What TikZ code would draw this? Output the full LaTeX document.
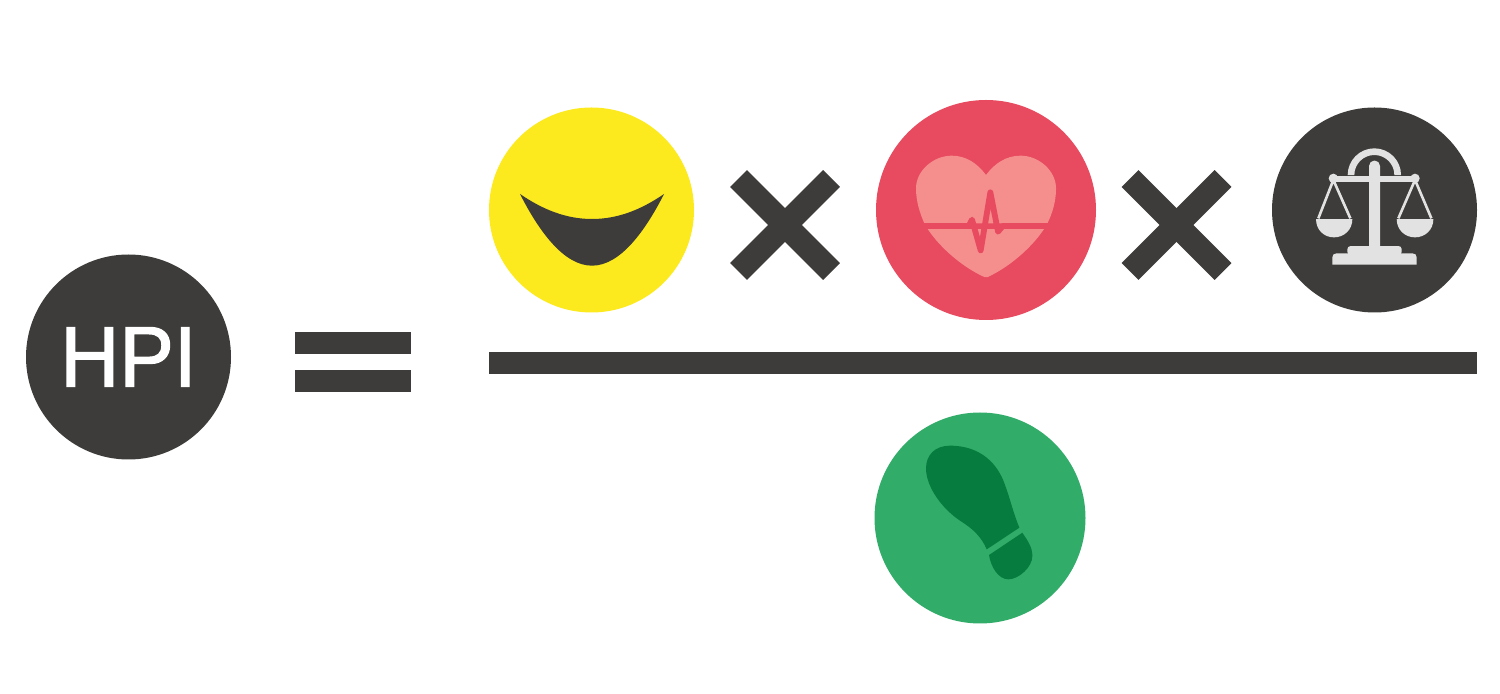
\documentclass[tikz,border=0pt]{standalone}
\usepackage{fontspec}
\setmainfont{Liberation Sans}[FakeBold=1.5,FakeStretch=0.95]
\definecolor{dk}{HTML}{3D3C3A}
\definecolor{yel}{HTML}{FCEA1E}
\definecolor{redc}{HTML}{E84A5F}
\definecolor{pink}{HTML}{F48F8E}
\definecolor{grn}{HTML}{32AC69}
\definecolor{dgrn}{HTML}{067D3E}
\definecolor{lite}{HTML}{E2E2E2}
\tikzset{
  disc/.style={circle,inner sep=0pt,outer sep=0pt,minimum size=#1*0.5pt},
  crossbar/.style={draw=dk,line width=12pt,line cap=butt}
}
\begin{document}
\begin{tikzpicture}[x=0.5pt,y=-0.5pt]
\useasboundingbox (0,0) rectangle (1500,694);
\fill[white] (0,0) rectangle (1500,694);
% discs
\node[disc=205,fill=dk,text=white] (hpi) at (128.5,357) {\fontsize{43}{43}\selectfont HPI};
\node[disc=205,fill=yel] (joy) at (591.5,210) {};
\node[disc=220,fill=redc] (health) at (986,210) {};
\node[disc=205,fill=dk] (fair) at (1374.5,210) {};
\node[disc=211,fill=grn] (foot) at (980,518) {};
% operators
\fill[dk] (295,332) rectangle (411,354);
\fill[dk] (295,370) rectangle (411,392);
\fill[dk] (489,352.5) rectangle (1477,374);
\foreach \dx in {0,391.5}{
  \draw[crossbar] (738.5+\dx,178.5) -- (831.5+\dx,271.5);
  \draw[crossbar] (831.5+\dx,178.5) -- (738.5+\dx,271.5);
}
% smile (zoom coordinates)
\begin{scope}[shift={(510,180)},x=0.1667pt,y=-0.1667pt]
\fill[dk] (30,42) .. controls (85,150) and (160,257) .. (246,257)
  .. controls (332,257) and (407,150) .. (462,42)
  .. controls (392,90) and (322,117) .. (246,117)
  .. controls (170,117) and (100,90) .. (30,42) -- cycle;
\end{scope}
% heart (zoom coordinates)
\begin{scope}[shift={(890,130)},x=0.1667pt,y=-0.1667pt]
\fill[pink] (288,135) .. controls (262,100) and (228,77) .. (185,77)
  .. controls (130,77) and (78,122) .. (78,175)
  .. controls (78,215) and (90,250) .. (103,280)
  -- (472,280)
  .. controls (487,250) and (498,215) .. (498,175)
  .. controls (498,122) and (446,77) .. (392,77)
  .. controls (348,77) and (314,100) .. (288,135) -- cycle;
\fill[pink] (113,297) -- (462,297)
  .. controls (420,360) and (350,415) .. (293,441)
  .. controls (290,443) and (286,443) .. (283,441)
  .. controls (225,415) and (155,360) .. (113,297) -- cycle;
\draw[redc,line width=2.9pt,line join=round,line cap=round]
  (103,288) -- (236,288) -- (246,269) -- (272,361) -- (301,187) -- (324,305) -- (338,288) -- (472,288);
\end{scope}
% scales (zoom coordinates)
\begin{scope}[shift={(1270,130)},x=0.1667pt,y=-0.1667pt]
\fill[lite] (233,135) arc[start angle=180,end angle=360,radius=80] -- (373,135) arc[start angle=360,end angle=180,radius=60] -- cycle;
\fill[lite] (297,350) -- (297,108) arc[start angle=180,end angle=360,radius=16.5] -- (330,350) -- cycle;
\fill[lite] (190,139) rectangle (435,157);
\fill[lite] (190,145) circle[radius=14];
\fill[lite] (435,145) circle[radius=14];
\fill[lite,rounded corners=1.6pt] (232,348) rectangle (395,375);
\fill[lite] (187,404) -- (187,382) .. controls (187,374) and (192,370) .. (200,370) -- (427,370) .. controls (435,370) and (440,374) .. (440,382) -- (440,404) -- cycle;
\draw[lite,line width=1.3pt,line join=round] (145,265) -- (190,150) -- (241,265);
\draw[lite,line width=1.3pt,line join=round] (385,265) -- (435,150) -- (484,265);
\fill[lite] (138,267) -- (247,267) .. controls (247,300) and (222,322) .. (192,322) .. controls (162,322) and (138,300) .. (138,267) -- cycle;
\fill[lite] (380,267) -- (490,267) .. controls (490,300) and (465,322) .. (435,322) .. controls (405,322) and (380,300) .. (380,267) -- cycle;
\end{scope}
% footprint (zoom coordinates)
\begin{scope}[shift={(900,430)},x=0.1667pt,y=-0.1667pt]
\fill[dgrn] (358,293) .. controls (340,250) and (330,205) .. (315,165)
  .. controls (295,105) and (245,47) .. (150,47)
  .. controls (105,47) and (78,75) .. (78,115)
  .. controls (78,170) and (125,235) .. (180,272)
  .. controls (220,297) and (245,322) .. (260,358) -- cycle;
\fill[dgrn] (267,375) -- (367,308)
  .. controls (385,335) and (397,352) .. (397,378)
  .. controls (397,412) and (355,448) .. (325,448)
  .. controls (295,448) and (272,410) .. (267,375) -- cycle;
\end{scope}
\end{tikzpicture}
\end{document}
